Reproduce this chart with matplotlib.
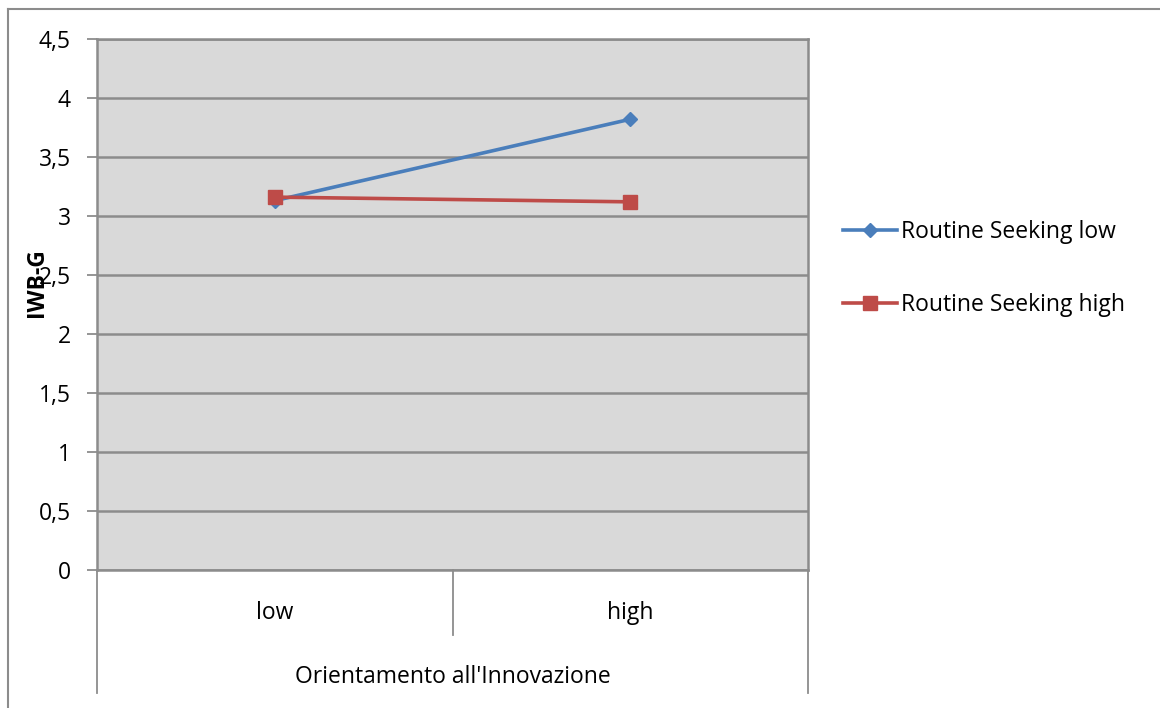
import matplotlib
matplotlib.use("Agg")
import matplotlib.pyplot as plt
from matplotlib.lines import Line2D

plt.rcParams['font.family'] = ['Open Sans', 'DejaVu Sans']

categories = ["low", "high"]
series_names = ["Routine Seeking low", "Routine Seeking high"]
routine_low = [3.13, 3.82]
routine_high = [3.16, 3.12]
y_ticks = [0, 0.5, 1, 1.5, 2, 2.5, 3, 3.5, 4, 4.5]
y_tick_labels = ["0", "0,5", "1", "1,5", "2", "2,5", "3", "3,5", "4", "4,5"]
x_title = "Orientamento all'Innovazione"
y_title = "IWB-G"

W, H = 1160, 708
fig = plt.figure(figsize=(W / 100, H / 100), dpi=100)
fig.patch.set_facecolor("white")

grid_c = "#8c8c8c"
fs = 16.5

# outer chart frame
fig.add_artist(Line2D([8 / W, 1.0], [1 - 9 / H, 1 - 9 / H], color=grid_c, lw=1.5))
fig.add_artist(Line2D([8 / W, 8 / W], [0, 1 - 9 / H], color=grid_c, lw=1.5))

ax = fig.add_axes([97 / W, (H - 570) / H, 711 / W, 531 / H])
ax.set_facecolor("#d9d9d9")
ax.set_xlim(0, 2)
ax.set_ylim(0, 4.5)
for s in ax.spines.values():
    s.set_color(grid_c)
    s.set_linewidth(1.8)

ax.set_yticks(y_ticks)
ax.set_yticklabels(y_tick_labels, fontsize=fs)
ax.tick_params(axis="y", length=7, width=1.3, color=grid_c, pad=12)
ax.grid(axis="y", color=grid_c, lw=1.8)
ax.set_axisbelow(True)
ax.set_xticks([])

xs = [i + 0.5 for i in range(len(categories))]
ax.plot(xs, routine_low, color="#4a7ebb", lw=2.6, marker="D", ms=7,
        label=series_names[0], clip_on=False, zorder=3)
ax.plot(xs, routine_high, color="#be4b48", lw=2.6, marker="s", ms=10,
        label=series_names[1], clip_on=False, zorder=4)

# category axis below the plot area
tr = ax.get_xaxis_transform()
ax.plot([1, 1], [0, -65 / 531], color=grid_c, lw=1.3, transform=tr, clip_on=False)
for xv in (0, 2):
    ax.plot([xv, xv], [0, -123 / 531], color=grid_c, lw=1.3, transform=tr, clip_on=False)
for xv, lab in zip(xs, categories):
    ax.text(xv, -43 / 531, lab, transform=tr, ha="center", va="center", fontsize=fs)
ax.text(1, -107 / 531, x_title, transform=tr, ha="center", va="center", fontsize=fs)

fig.text(37 / W, 1 - 283 / H, y_title, rotation=90, ha="center", va="center",
         fontsize=fs, fontweight="bold")

fig.legend(loc="center left", bbox_to_anchor=(843 / W, 1 - 268.5 / H), frameon=False,
           fontsize=fs, handlelength=2.35, handletextpad=0.2, labelspacing=2.15,
           borderaxespad=0, borderpad=0)

fig.savefig("out.png", dpi=100)
